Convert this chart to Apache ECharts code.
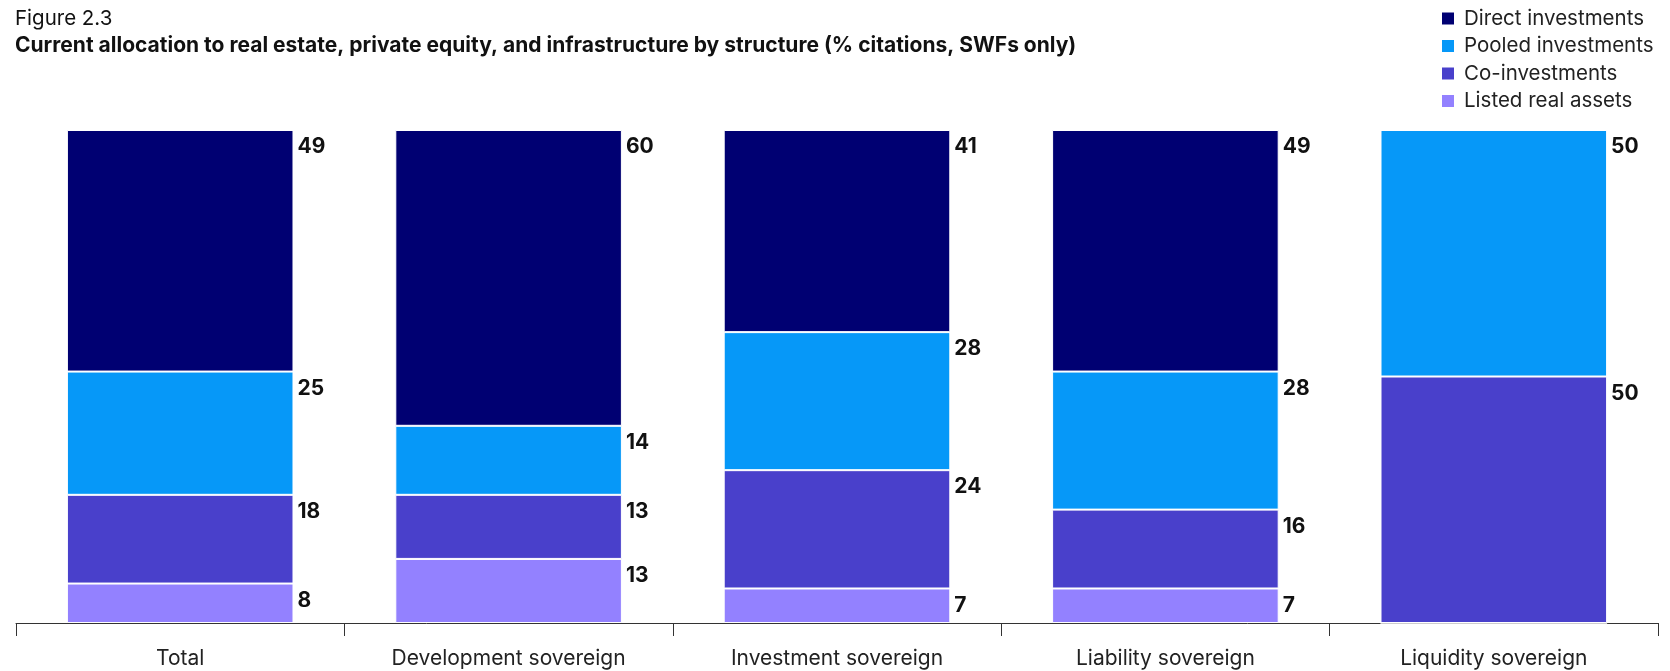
<!DOCTYPE html>
<html>
<head>
<meta charset="utf-8">
<script src="https://cdn.jsdelivr.net/npm/echarts@6/dist/echarts.min.js"></script>
<style>
html,body{margin:0;padding:0;background:#fff;}
#chart{width:1670px;height:671px;}
</style>
</head>
<body>
<div id="chart"></div>
<script>
const categories = ['Total', 'Development sovereign', 'Investment sovereign', 'Liability sovereign', 'Liquidity sovereign'];
const seriesNames = ['Direct investments', 'Pooled investments', 'Co-investments', 'Listed real assets'];
const direct = [49, 60, 41, 49, 0];
const pooled = [25, 14, 28, 28, 50];
const coInvest = [18, 13, 24, 16, 50];
const listed = [8, 13, 7, 7, 0];
const colors = {
  'Direct investments': '#000072',
  'Pooled investments': '#0698F8',
  'Co-investments': '#4940CB',
  'Listed real assets': '#9381FF'
};

const FONT = 'Inter';
const chart = echarts.init(document.getElementById('chart'), null, {renderer: 'canvas'});

function mk(name, data) {
  return {
    name: name,
    type: 'bar',
    stack: 'total',
    barWidth: '69%',
    data: data,
    itemStyle: {color: colors[name], borderColor: '#ffffff', borderWidth: 1},
    label: {
      show: true,
      position: ['100%', 17],
      offset: [4, 0],
      align: 'left',
      verticalAlign: 'middle',
      fontFamily: FONT,
      fontWeight: 'bold',
      fontSize: 21,
      color: '#111',
      formatter: p => (p.value ? String(p.value) : '')
    },
    emphasis: {disabled: true}
  };
}

chart.setOption({
  animation: false,
  backgroundColor: '#fff',
  title: [
    {text: 'Figure 2.3', left: 13, top: 6, padding: 2, textStyle: {fontFamily: FONT, fontWeight: 'normal', fontSize: 20.5, color: '#111'}},
    {text: 'Current allocation to real estate, private equity, and infrastructure by structure (% citations, SWFs only)', left: 13, top: 33, padding: 2, textStyle: {fontFamily: FONT, fontWeight: 'bold', fontSize: 21, color: '#111'}}
  ],
  legend: {
    data: seriesNames,
    orient: 'vertical',
    left: 1435,
    top: 3,
    itemWidth: 14,
    itemHeight: 14,
    itemGap: 6.5,
    icon: 'rect',
    textStyle: {fontFamily: FONT, fontSize: 20.5, color: '#222', lineHeight: 21, padding: [0, 0, 0, 4]},
    selectedMode: false
  },
  grid: {left: 16, right: 12, top: 130, bottom: 48, containLabel: false},
  xAxis: {
    type: 'category',
    data: categories,
    boundaryGap: true,
    axisLine: {show: true, lineStyle: {color: '#333', width: 1}},
    axisTick: {show: true, length: 13, lineStyle: {color: '#333'}},
    axisLabel: {fontFamily: FONT, fontSize: 21, color: '#222', margin: 25}
  },
  yAxis: {type: 'value', min: 0, max: 100, show: false, splitLine: {show: false}},
  series: [
    mk('Listed real assets', listed),
    mk('Co-investments', coInvest),
    mk('Pooled investments', pooled),
    mk('Direct investments', direct)
  ]
});
</script>
</body>
</html>
